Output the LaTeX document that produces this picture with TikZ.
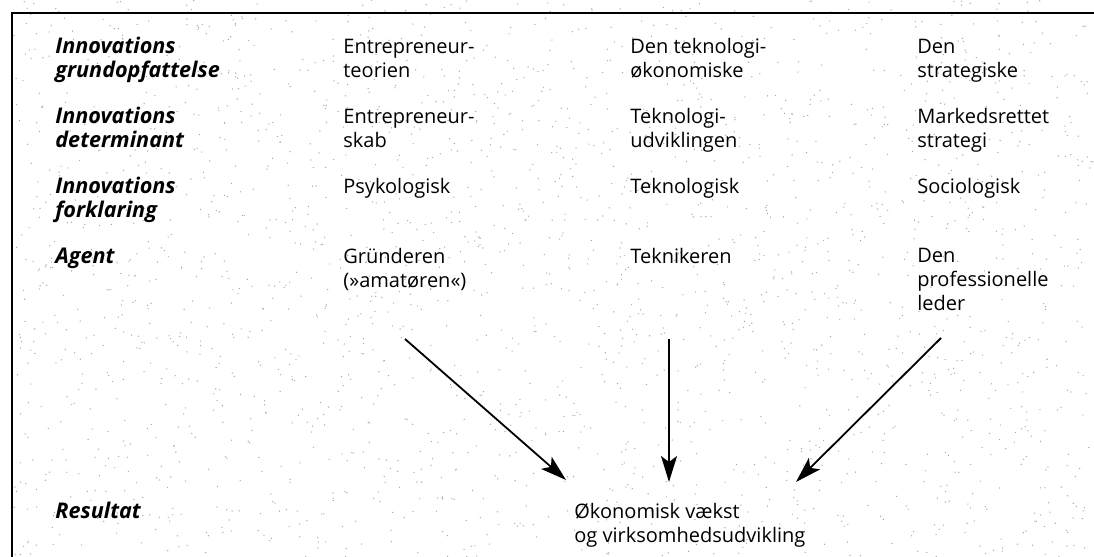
\documentclass[tikz,border=0pt]{standalone}
\usepackage{fontspec}
\setsansfont{Open Sans}
\usetikzlibrary{arrows.meta,positioning}
\tikzset{>={Stealth[length=13pt,width=8pt,inset=3pt]}}
\tikzset{head/.style={font=\sffamily\bfseries\itshape\fontsize{10.8}{12}\selectfont,align=left,anchor=base west,inner sep=0pt},
         cell/.style={font=\sffamily\fontsize{10}{12}\selectfont,align=left,anchor=base west,inner sep=0pt},
        }

\begin{document}
\begin{tikzpicture}[x=0.5pt,y=-0.5pt]

    \useasboundingbox (0,0) rectangle (1094,557);

    % stippled paper
    \pgfmathsetseed{11}
    \foreach \i in {1,...,2300} {
        \pgfmathsetmacro\dx{14+rnd*1080}
        \pgfmathsetmacro\dy{rnd*557}
        \fill[black!35] (\dx,\dy) circle[radius=0.35pt];
    }

    % frame (only left and top edge are in the picture)
    \draw[line width=1.4pt] (12,557) -- (12,13) -- (1094,13);

    % nodes sit on the baseline of their last line
    \node[head] (h1) at (55,77)  {Innovations\\grundopfattelse};
    \node[head] (h2) at (55,147) {Innovations\\determinant};
    \node[head] (h3) at (55,217) {Innovations\\forklaring};
    \node[head] (h4) at (55,263) {Agent};
    \node[head] (h5) at (55,518) {Resultat};

    \node[cell] (a1) at (343,77)  {Entrepreneur-\\teorien};
    \node[cell] (a2) at (343,147) {Entrepreneur-\\skab};
    \node[cell] (a3) at (343,193) {Psykologisk};
    \node[cell] (a4) at (343,287) {Gründeren\\(»amatøren«)};

    \node[cell] (b1) at (630,77)  {Den teknologi-\\økonomiske};
    \node[cell] (b2) at (630,147) {Teknologi-\\udviklingen};
    \node[cell] (b3) at (630,193) {Teknologisk};
    \node[cell] (b4) at (630,263) {Teknikeren};

    \node[cell] (c1) at (917,77)  {Den\\strategiske};
    \node[cell] (c2) at (917,147) {Markedsrettet\\strategi};
    \node[cell] (c3) at (917,193) {Sociologisk};
    \node[cell] (c4) at (917,310) {Den\\professionelle\\leder};

    \node[cell] (res) at (574,542) {Økonomisk vækst\\og virksomhedsudvikling};

    \coordinate (s1) at (405,339);
    \coordinate (s2) at (669,339);
    \coordinate (s3) at (941,338);
    \coordinate (e1) at (566,480);
    \coordinate (e2) at (669,482);
    \coordinate (e3) at (796,482);

    \path[line width=0.9pt,->]
    (s1) edge (e1)
    (s2) edge (e2)
    (s3) edge (e3);

\end{tikzpicture}
\end{document}
